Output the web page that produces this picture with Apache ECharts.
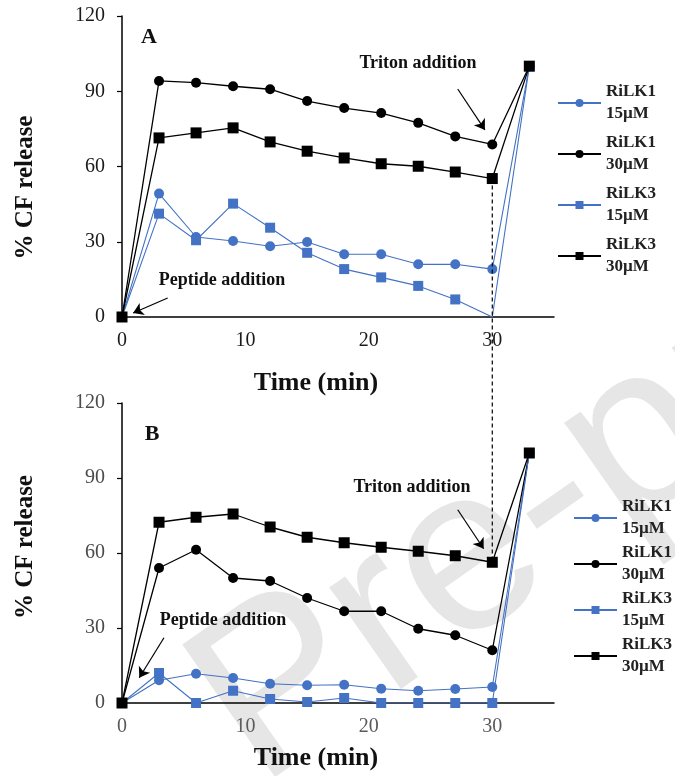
<!DOCTYPE html>
<html>
<head>
<meta charset="utf-8">
<script src="https://cdn.jsdelivr.net/npm/echarts@6/dist/echarts.min.js"></script>
<style>
  html, body { margin: 0; padding: 0; background: #fff; }
  #chart { width: 675px; height: 776px; }
</style>
</head>
<body>
<div id="chart"></div>
<script>
var times = [0, 3, 6, 9, 12, 15, 18, 21, 24, 27, 30, 33];
var seriesNames = ['RiLK1 15µM', 'RiLK1 30µM', 'RiLK3 15µM', 'RiLK3 30µM'];
var yTicks = [0, 30, 60, 90, 120];
var xTicks = [0, 10, 20, 30];

// panel A
var aRiLK1_15 = [0, 49.2, 31.9, 30.3, 28.2, 29.9, 25.0, 25.0, 21.0, 21.0, 19.1, 100];
var aRiLK1_30 = [0, 94.1, 93.4, 92.0, 90.8, 86.1, 83.3, 81.3, 77.4, 72.0, 68.8, 100];
var aRiLK3_15 = [0, 41.2, 30.6, 45.2, 35.6, 25.6, 19.1, 15.8, 12.4, 7.0, 0, 100];
var aRiLK3_30 = [0, 71.4, 73.4, 75.4, 69.8, 66.1, 63.4, 61.1, 60.1, 57.8, 55.2, 100];

// panel B
var bRiLK1_15 = [0, 9.1, 11.7, 10.0, 7.7, 7.1, 7.3, 5.7, 4.9, 5.6, 6.4, 100];
var bRiLK1_30 = [0, 54.0, 61.3, 50.0, 48.8, 42.0, 36.7, 36.7, 29.7, 27.1, 21.1, 100];
var bRiLK3_15 = [0, 12.0, 0, 4.9, 1.6, 0.4, 2.0, 0, 0, 0, 0, 100];
var bRiLK3_30 = [0, 72.3, 74.3, 75.6, 70.4, 66.3, 64.1, 62.3, 60.7, 58.9, 56.3, 100];

var serif = '"Liberation Serif", "Times New Roman", serif';
var blue = '#4472C4';
var colors = [blue, '#000', blue, '#000'];
var symbols = ['circle', 'circle', 'rect', 'rect'];
var symbolSizes = [10, 10, 10, 11];

function buildSeries(panel, values, grid) {
    return values.map(function (vals, i) {
        var data = times.map(function (t, k) {
            var p = { value: [t, vals[k]] };
            // in panel A the RiLK3 15µM point at 30 min has no marker
            if (panel === 'A' && i === 2 && t === 30) p.symbol = 'none';
            return p;
        });
        return {
            name: seriesNames[i],
            type: 'line',
            xAxisIndex: grid,
            yAxisIndex: grid,
            data: data,
            symbol: symbols[i],
            symbolSize: symbolSizes[i],
            color: colors[i],
            lineStyle: { color: colors[i], width: colors[i] === blue ? 1.1 : 1.3 },
            itemStyle: { color: colors[i] },
            z: 2 + i
        };
    });
}

function arrow(from, to) {
    return [{ coord: from, symbol: 'none' }, { coord: to, symbol: 'arrow' }];
}

var seriesA = buildSeries('A', [aRiLK1_15, aRiLK1_30, aRiLK3_15, aRiLK3_30], 0);
var seriesB = buildSeries('B', [bRiLK1_15, bRiLK1_30, bRiLK3_15, bRiLK3_30], 1);

var arrowLine = {
    silent: true,
    symbolSize: 10,
    label: { show: false },
    lineStyle: { color: '#000', width: 1.2, type: 'solid' },
    emphasis: { disabled: true }
};
seriesA[3].markLine = Object.assign({
    data: [arrow([27.2, 90.9], [29.4, 74.6]), arrow([3.7, 7.6], [0.9, 1.6])]
}, arrowLine);
seriesB[3].markLine = Object.assign({
    data: [arrow([27.2, 77.3], [29.3, 61.7]), arrow([3.4, 26.1], [1.4, 10.1])]
}, arrowLine);

function xAxis(grid, labelColor, gap) {
    return {
        gridIndex: grid, type: 'value', min: 0, max: 35,
        name: 'Time (min)', nameLocation: 'middle', nameGap: gap,
        nameTextStyle: { fontFamily: serif, fontWeight: 'bold', fontSize: 26, color: '#111', padding: [0, 44, 0, 0] },
        axisLine: { show: true, lineStyle: { color: '#000', width: 1.5 } },
        axisTick: { show: false },
        axisLabel: { customValues: xTicks, fontFamily: serif, fontSize: 20, color: labelColor, margin: 14 },
        splitLine: { show: false }
    };
}

function yAxis(grid, labelColor, pad) {
    return {
        gridIndex: grid, type: 'value', min: 0, max: 120, interval: 30,
        name: '% CF release', nameLocation: 'middle', nameGap: 84, nameRotate: 90,
        nameTextStyle: { fontFamily: serif, fontWeight: 'bold', fontSize: 25, color: '#111', padding: pad },
        axisLine: { show: true, lineStyle: { color: '#000', width: 1.5 } },
        axisTick: { show: true, length: 5, lineStyle: { color: '#000', width: 1.2 } },
        axisLabel: { customValues: yTicks, fontFamily: serif, fontSize: 20, color: labelColor, margin: 17 },
        splitLine: { show: false }
    };
}

function legend(left, top, gap) {
    return {
        data: seriesNames,
        orient: 'vertical',
        left: left, top: top,
        padding: 0,
        itemGap: gap,
        itemWidth: 43,
        itemHeight: 10,
        selectedMode: false,
        formatter: function (n) { return n.replace(' ', '\n'); },
        textStyle: { fontFamily: serif, fontWeight: 'bold', fontSize: 17, lineHeight: 22, color: '#222', padding: [22, 0, 0, 0] }
    };
}

var option = {
    animation: false,
    backgroundColor: '#fff',
    grid: [
        { left: 122, right: 121, top: 16, height: 301 },
        { left: 122, right: 121, top: 403, height: 300 }
    ],
    xAxis: [xAxis(0, '#1a1a1a', 53), xAxis(1, '#5a5a5a', 42)],
    yAxis: [yAxis(0, '#1a1a1a', [0, 42, 0, 0]), yAxis(1, '#4a4a4a', [0, 0, 0, 12])],
    legend: [legend(557, 70, -15), legend(573, 485, -20)],
    series: seriesA.concat(seriesB)
};

var myChart = echarts.init(document.getElementById('chart'));
myChart.setOption(option);

// dashed guide joining the 30 min RiLK3 30µM points of both panels
var pA = myChart.convertToPixel({ gridIndex: 0 }, [30, aRiLK3_30[10]]);
var pB = myChart.convertToPixel({ gridIndex: 1 }, [30, bRiLK3_30[10]]);

function label(text, x, y, size) {
    return {
        type: 'text', x: x, y: y, z: 20,
        style: { text: text, fill: '#111', font: 'bold ' + size + 'px ' + serif, textAlign: 'center', textVerticalAlign: 'middle', align: 'center', verticalAlign: 'middle' }
    };
}

myChart.setOption({
    graphic: [
        {
            type: 'text', x: 222, y: 735, rotation: 35 * Math.PI / 180, z: -10, silent: true,
            style: { text: 'Pre-proof', font: '235px "Liberation Sans", Arial, sans-serif', fill: '#e6e6e6', textAlign: 'left', align: 'left', textVerticalAlign: 'middle', verticalAlign: 'middle' }
        },
        {
            type: 'line', z: 20, silent: true,
            shape: { x1: pA[0], y1: pA[1], x2: pB[0], y2: pB[1] },
            style: { stroke: '#000', lineWidth: 1.2, lineDash: [4, 3] }
        },
        label('A', 149, 37, 22),
        label('B', 152, 434, 22),
        label('Triton addition', 418, 63, 18),
        label('Peptide addition', 222, 280, 18),
        label('Triton addition', 412, 487, 18),
        label('Peptide addition', 223, 620, 18)
    ]
});
</script>
</body>
</html>
